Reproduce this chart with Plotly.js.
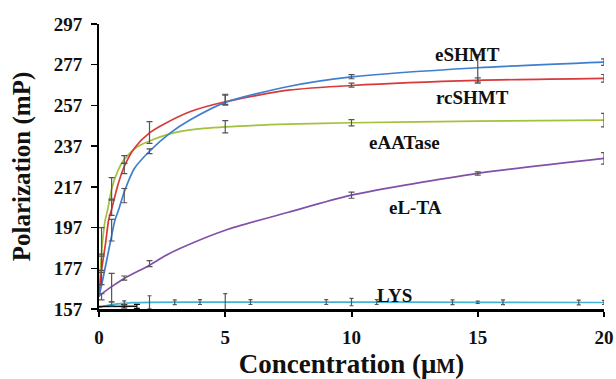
<!DOCTYPE html>
<html>
<head>
<meta charset="utf-8">
<script src="https://cdn.plot.ly/plotly-3.0.1.min.js"></script>
<style>html,body{margin:0;padding:0;background:#fff;}#chart{width:616px;height:379px;}</style>
</head>
<body>
<div id="chart"></div>
<script>
// Fitted curves
const eshmtCurveX = [0, 0.17, 0.44, 0.63, 0.77, 1, 1.4, 2, 2.8, 3.6, 5, 7.5, 10, 15, 20];
const eshmtCurveY = [163, 172.7, 189.3, 200.6, 205.5, 214.5, 226, 234.5, 243.3, 249.8, 258.5, 266.3, 271, 275.5, 278.3];
const rcshmtCurveX = [0, 0.1, 0.26, 0.38, 0.5, 0.75, 1, 1.4, 2, 2.6, 3.6, 5, 7.5, 10, 15, 20];
const rcshmtCurveY = [163, 176, 189.3, 200.6, 206, 218, 227, 236, 243.5, 248, 253.9, 258.8, 264.5, 266.8, 269.3, 270.3];
const eaatCurveX = [0, 0.05, 0.13, 0.25, 0.34, 0.5, 0.75, 1, 1.5, 2, 2.8, 3.6, 5, 7.5, 10, 15, 20];
const eaatCurveY = [163, 175, 189, 201, 205.5, 216, 225, 230.5, 236.5, 239.5, 243, 245, 246.5, 247.8, 248.5, 249.3, 249.8];
const eltaCurveX = [0, 0.5, 1, 2, 2.6, 3.2, 5, 7.5, 10, 15, 20];
const eltaCurveY = [163.5, 168, 172, 178.5, 183, 186.7, 195.7, 204.5, 212.9, 223.6, 231];
const lysCurveX = [0, 0.3, 0.6, 1, 1.3, 2, 5, 10, 15, 20];
const lysCurveY = [157.8, 158.7, 159.3, 159.8, 160.1, 160.3, 160.4, 160.4, 160.3, 160.2];
const blankX = [0, 0.5, 1, 1.5];
const blankY = [158.2, 158.3, 158.3, 158.3];
const blankErr = [0, 0, 0.8, 1.0];

// Measured points with error bars
const eshmtX = [0.1, 0.5, 1, 2, 5, 10, 15, 20];
const eshmtY = [172, 195.7, 212.7, 234.5, 259.6, 271.1, 275, 278.3];
const eshmtErr = [3, 5.3, 3.5, 1.2, 2.5, 1, 7, 1.6];
const rcshmtX = [0.1, 0.5, 1, 2, 5, 10, 15, 20];
const rcshmtY = [180, 207, 226, 243.7, 260, 267, 269.5, 270.3];
const rcshmtErr = [4, 4, 2.5, 5.3, 2.5, 1, 1, 1.9];
const eaatX = [0.1, 0.5, 1, 5, 10, 20];
const eaatY = [190, 216, 230.4, 246.5, 248.5, 249.8];
const eaatErr = [7, 5.5, 1.9, 3, 1.5, 3.3];
const eltaX = [0.1, 0.5, 1, 2, 10, 15, 20];
const eltaY = [163, 167.5, 172.2, 179.3, 212.9, 223.6, 231];
const eltaErr = [1.5, 7, 1, 1.5, 1.5, 0.8, 2.8];
const lysX = [0.5, 1, 2, 3, 4, 5, 6, 9, 10, 11, 14, 15, 16, 19, 20];
const lysY = [159.5, 160, 160.3, 160.3, 160.4, 160.4, 160.4, 160.4, 160.4, 160.4, 160.3, 160.3, 160.3, 160.2, 160.2];
const lysErr = [1, 1, 3.2, 1.2, 1.2, 4.2, 1.2, 1.2, 1.8, 1.2, 1.2, 0.6, 1.2, 1.2, 1];

const xTicks = [0, 5, 10, 15, 20];
const yTicks = [157, 177, 197, 217, 237, 257, 277, 297];

const cBlue = '#3f7fd0', cRed = '#d8393a', cGreen = '#a2c23c', cPurple = '#8150a8', cCyan = '#45b3d6';
const serif = 'Liberation Serif, Times New Roman, serif';

function curve(x, y, color) {
  return {x: x, y: y, type: 'scatter', mode: 'lines',
    line: {color: color, width: 1.7, shape: 'spline', smoothing: 0.7}, hoverinfo: 'skip'};
}
function pts(x, y, e, w) {
  return {x: x, y: y, type: 'scatter', mode: 'markers', marker: {size: 1, color: 'rgba(0,0,0,0)'},
    error_y: {type: 'data', array: e, visible: true, color: '#555', thickness: 1.2, width: w || 3}};
}

const traces = [
  curve(lysCurveX, lysCurveY, cCyan),
  {x: blankX, y: blankY, type: 'scatter', mode: 'lines', line: {color: '#111', width: 1.5},
   error_y: {type: 'data', array: blankErr, visible: true, color: '#111', thickness: 1.2, width: 3}},
  curve(eltaCurveX, eltaCurveY, cPurple),
  curve(eaatCurveX, eaatCurveY, cGreen),
  curve(rcshmtCurveX, rcshmtCurveY, cRed),
  curve(eshmtCurveX, eshmtCurveY, cBlue),
  pts(eshmtX, eshmtY, eshmtErr),
  pts(rcshmtX, rcshmtY, rcshmtErr),
  pts(eaatX, eaatY, eaatErr),
  pts(eltaX, eltaY, eltaErr),
  pts(lysX, lysY, lysErr, 2)
];

const annFont = {family: serif, size: 19, color: '#111', weight: 'bold'};
const layout = {
  width: 616, height: 379,
  margin: {l: 99, r: 12, t: 24, b: 70},
  paper_bgcolor: '#fff', plot_bgcolor: '#fff',
  showlegend: false,
  font: {family: serif, color: '#111'},
  xaxis: {
    range: [0, 20], tickvals: xTicks, ticktext: xTicks.map(String),
    showgrid: false, zeroline: false, showline: true, linecolor: '#000', linewidth: 3,
    ticks: 'outside', ticklen: 5, tickwidth: 2, tickcolor: '#000', ticklabelstandoff: 4,
    tickfont: {family: serif, size: 19, color: '#111', weight: 'bold'},
    title: {text: 'Concentration (μ<span style="font-size:20px">M</span>)', standoff: 14,
            font: {family: serif, size: 27, color: '#111', weight: 'bold'}}
  },
  yaxis: {
    range: [157, 297], tickvals: yTicks, ticktext: yTicks.map(String),
    showgrid: false, zeroline: false, showline: true, linecolor: '#000', linewidth: 2,
    ticks: 'outside', ticklen: 6, tickwidth: 1.5, tickcolor: '#000', ticklabelstandoff: 5,
    tickfont: {family: serif, size: 19, color: '#111', weight: 'bold'},
    title: {text: 'Polarization (mP)', standoff: 16,
            font: {family: serif, size: 25, color: '#111', weight: 'bold'}}
  },
  annotations: [
    {x: 14.6, y: 282.2, text: 'eSHMT', showarrow: false, font: annFont},
    {x: 14.8, y: 261.1, text: 'rcSHMT', showarrow: false, font: annFont},
    {x: 12.1, y: 238.7, text: 'eAATase', showarrow: false, font: annFont},
    {x: 12.55, y: 207, text: 'eL-TA', showarrow: false, font: annFont},
    {x: 11.7, y: 163.7, text: 'LYS', showarrow: false, font: annFont}
  ]
};

Plotly.newPlot('chart', traces, layout, {displayModeBar: false, staticPlot: true});
</script>
</body>
</html>
